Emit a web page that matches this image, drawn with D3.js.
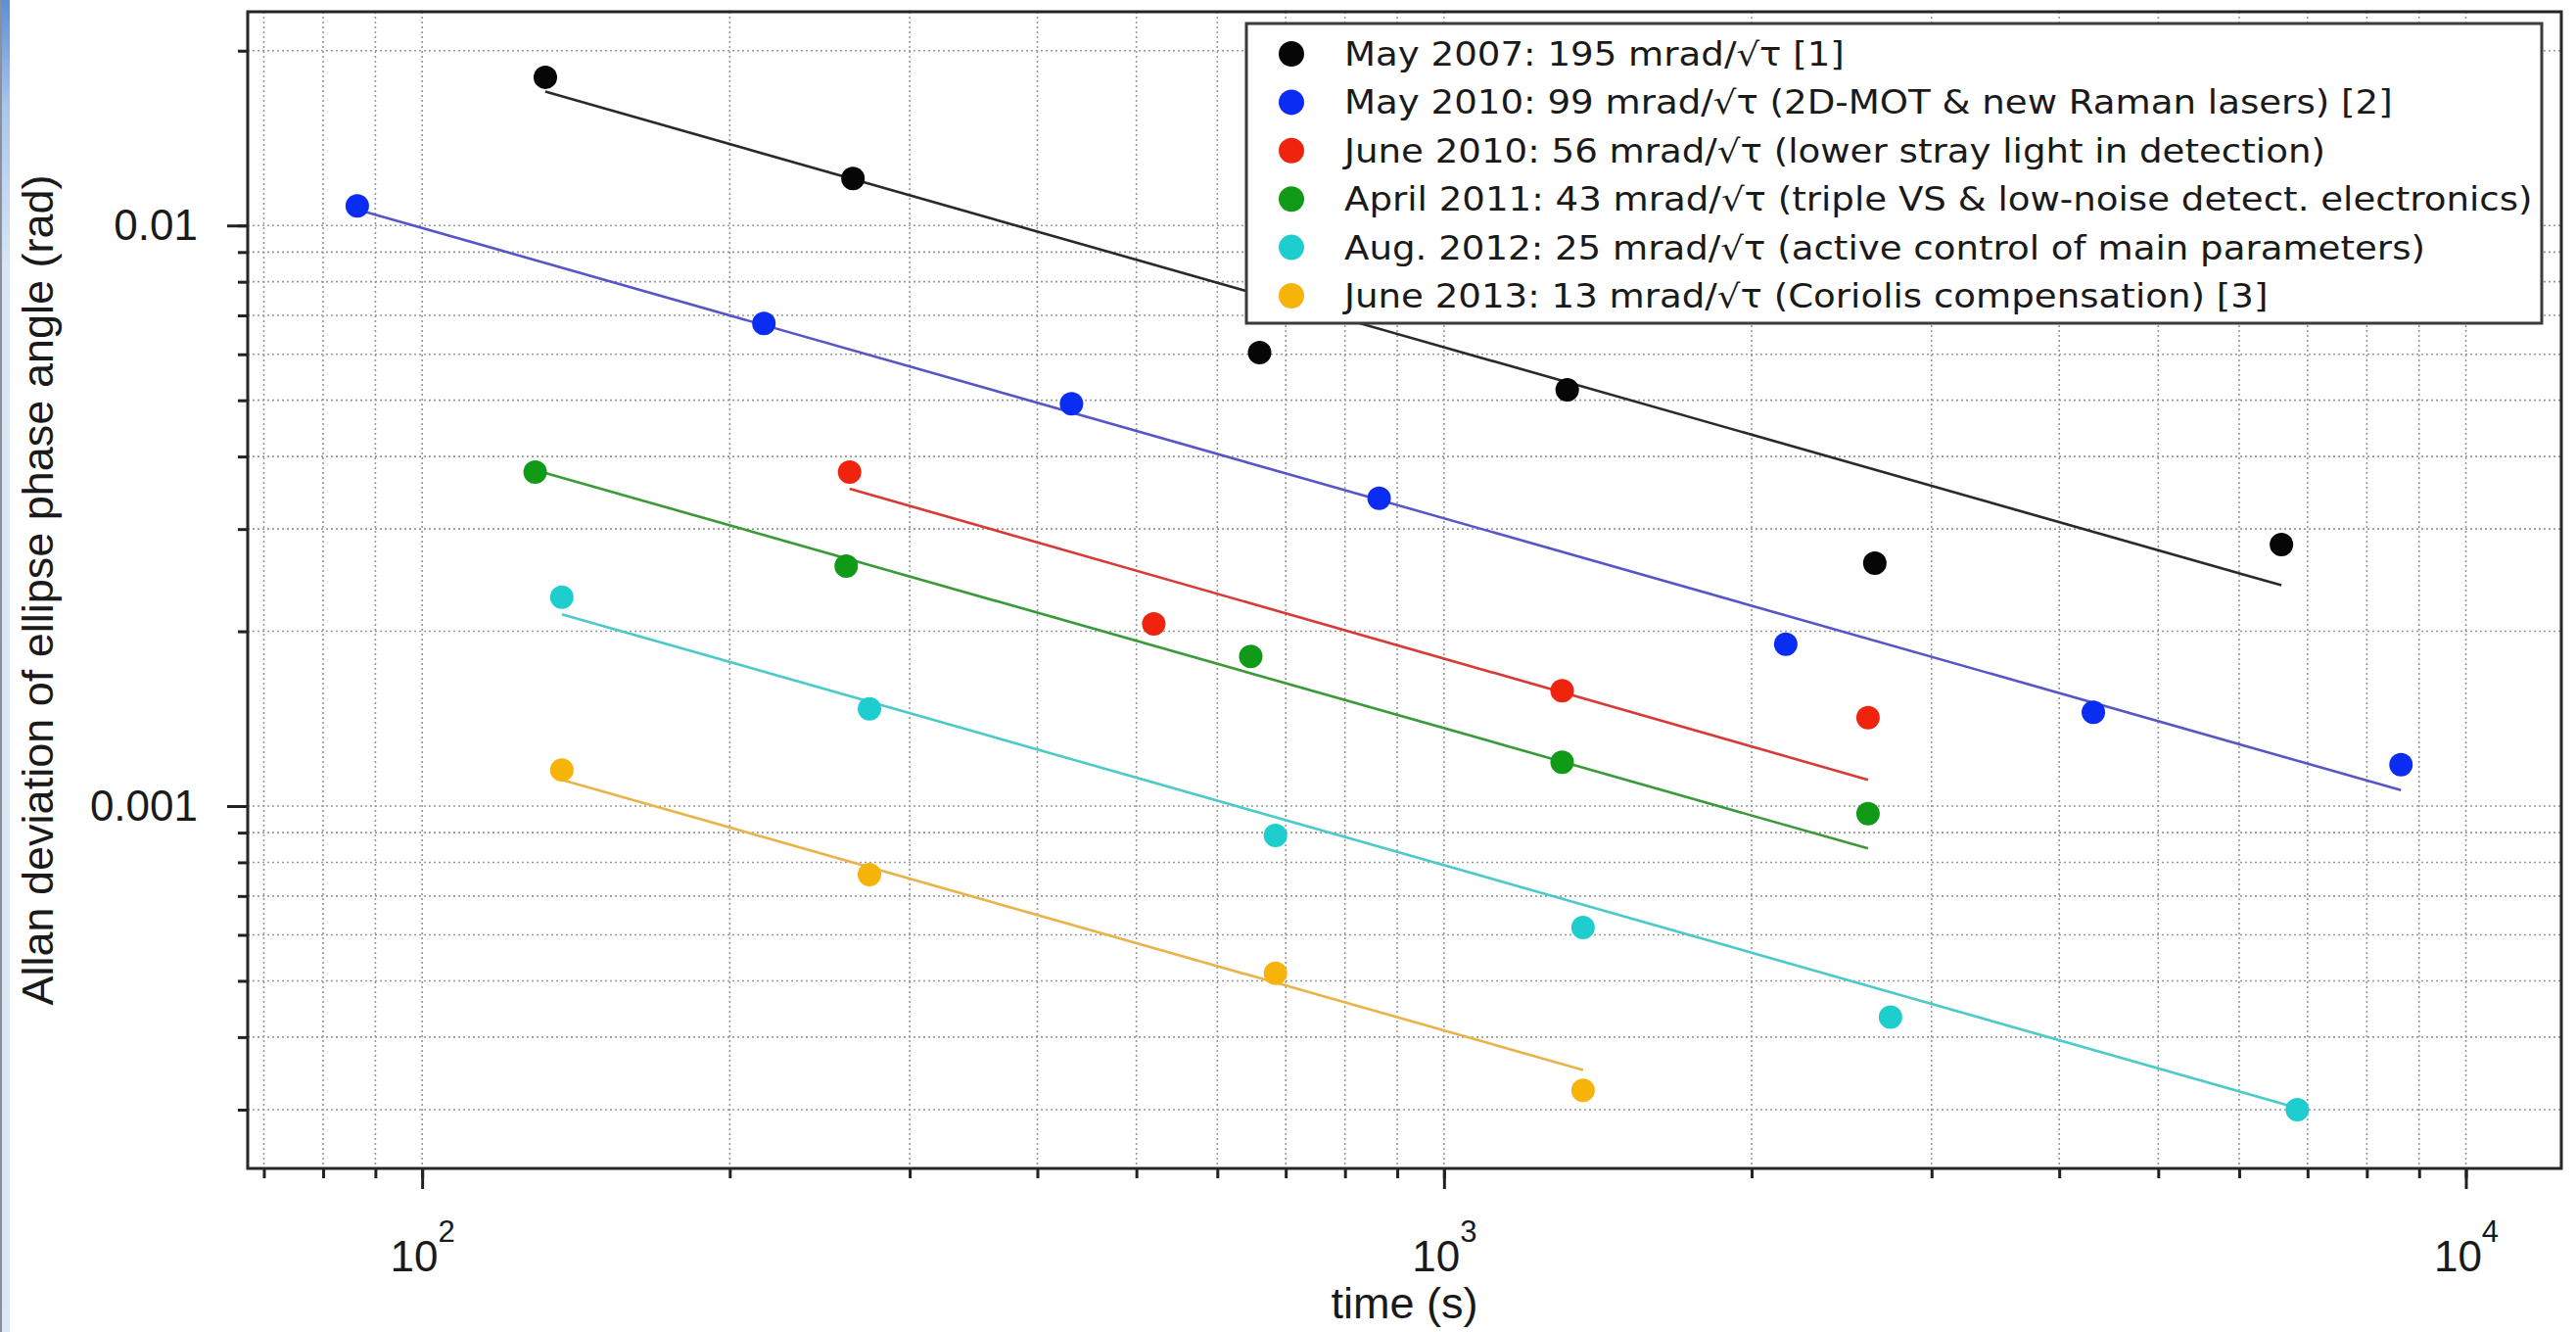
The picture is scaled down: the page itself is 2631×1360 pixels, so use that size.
<!DOCTYPE html>
<html>
<head>
<meta charset="utf-8">
<script src="https://cdn.jsdelivr.net/npm/d3@7"></script>
<style>
  body { margin: 0; background: #fff; }
  text { font-family: "Liberation Sans", Helvetica, Arial, sans-serif; fill: #1a1a1a; }
</style>
</head>
<body>
<svg id="chart"></svg>
<script>
const tauBlack = [132, 264, 660, 1320, 2640, 6600];
const sigBlack = [0.0180, 0.01205, 0.00604, 0.00521, 0.00262, 0.00282];
const tauBlue = [86.4, 216, 432, 864, 2160, 4320, 8640];
const sigBlue = [0.01081, 0.00678, 0.00493, 0.00339, 0.00190, 0.00145, 0.001178];
const tauRed = [262, 520, 1305, 2600];
const sigRed = [0.00376, 0.00206, 0.00158, 0.00142];
const tauGreen = [129, 260, 647, 1305, 2600];
const sigGreen = [0.00376, 0.00259, 0.00181, 0.00119, 0.00097];
const tauCyan = [137, 274, 684, 1368, 2735, 6840];
const sigCyan = [0.00229, 0.00147, 0.00089, 0.000618, 0.000433, 0.000300];
const tauOrange = [137, 274, 684, 1368];
const sigOrange = [0.001154, 0.000762, 0.000515, 0.000324];

// 1/sqrt(tau) fit lines: start and end points
const fitTau = [[132, 6600], [86.4, 8640], [262, 2600], [129, 2600], [137, 6840], [137, 1368]];
const fitSig = [[0.0170, 0.00240], [0.01065, 0.001065], [0.00352, 0.00111], [0.00379, 0.000845], [0.00214, 0.000302], [0.00111, 0.000351]];

const legendLabels = [
  'May 2007: 195 mrad/\u221A\u03C4 [1]',
  'May 2010: 99 mrad/\u221A\u03C4 (2D-MOT & new Raman lasers) [2]',
  'June 2010: 56 mrad/\u221A\u03C4 (lower stray light in detection)',
  'April 2011: 43 mrad/\u221A\u03C4 (triple VS & low-noise detect. electronics)',
  'Aug. 2012: 25 mrad/\u221A\u03C4 (active control of main parameters)',
  'June 2013: 13 mrad/\u221A\u03C4 (Coriolis compensation) [3]'
];

// Axis ticks
const xGridTicks = [70, 80, 90, 100, 200, 300, 400, 500, 600, 700, 800, 900,
  1000, 2000, 3000, 4000, 5000, 6000, 7000, 8000, 9000, 10000];
const xMajorTicks = [100, 1000, 10000];
const xMajorExp = ['2', '3', '4'];
const yGridTicks = [0.0003, 0.0004, 0.0005, 0.0006, 0.0007, 0.0008, 0.0009,
  0.001, 0.002, 0.003, 0.004, 0.005, 0.006, 0.007, 0.008, 0.009, 0.01, 0.02];
const yMajorTicks = [0.01, 0.001];
const yMajorLabels = ['0.01', '0.001'];

// Styles
const dotColors = ['#060606', '#0b2cf2', '#f0240e', '#119a17', '#1ecece', '#f6b30a'];
const lineColors = ['#2a2a2a', '#5656c8', '#d83a34', '#3a9a3a', '#4ccaca', '#e8b448'];

const series = [
  [tauBlack, sigBlack], [tauBlue, sigBlue], [tauRed, sigRed],
  [tauGreen, sigGreen], [tauCyan, sigCyan], [tauOrange, sigOrange]
];

const W = 2631, H = 1360;
const margin = { top: 12, right: 15, bottom: 167, left: 253 };

const svg = d3.select('#chart')
    .attr('width', W)
    .attr('height', H);

svg.append('rect').attr('width', W).attr('height', H).attr('fill', '#fff');

// thin window strip on the left edge
const grad = svg.append('defs').append('linearGradient')
    .attr('id', 'strip').attr('x1', 0).attr('y1', 0).attr('x2', 0).attr('y2', 1);
grad.append('stop').attr('offset', '0%').attr('stop-color', '#5d8fd6');
grad.append('stop').attr('offset', '8%').attr('stop-color', '#a9c6ec');
grad.append('stop').attr('offset', '20%').attr('stop-color', '#d8e6f6');
grad.append('stop').attr('offset', '100%').attr('stop-color', '#dae7f6');
svg.append('rect').attr('x', 0).attr('y', 0).attr('width', 10).attr('height', H).attr('fill', 'url(#strip)');
svg.append('line').attr('x1', 1).attr('x2', 1).attr('y1', 0).attr('y2', H)
    .attr('stroke', '#8a8f99').attr('stroke-width', 2);

const x = d3.scaleLog()
    .domain([67.5, 12400])
    .range([margin.left, W - margin.right]);

const y = d3.scaleLog()
    .domain([0.0002376, 0.02334])
    .range([H - margin.bottom, margin.top]);

const x0 = margin.left, x1 = W - margin.right;
const y0 = H - margin.bottom, y1 = margin.top;

// Dotted grid
const grid = svg.append('g')
    .attr('stroke', '#999')
    .attr('stroke-width', 1.6)
    .attr('stroke-dasharray', '2,3');

grid.selectAll('.vg')
    .data(xGridTicks)
  .enter().append('line')
    .attr('x1', d => x(d)).attr('x2', d => x(d))
    .attr('y1', y1).attr('y2', y0);

grid.selectAll('.hg')
    .data(yGridTicks)
  .enter().append('line')
    .attr('y1', d => y(d)).attr('y2', d => y(d))
    .attr('x1', x0).attr('x2', x1);

// Axes: minor ticks, then major ticks with labels
function styleAxis(g) {
    g.select('.domain').remove();
    g.selectAll('line').attr('stroke', '#222').attr('stroke-width', 3);
}

svg.append('g')
    .attr('transform', 'translate(' + x0 + ',0)')
    .call(d3.axisLeft(y).tickValues(yGridTicks).tickSize(10).tickFormat(''))
    .call(styleAxis);

const yMajor = svg.append('g')
    .attr('transform', 'translate(' + x0 + ',0)')
    .call(d3.axisLeft(y).tickValues(yMajorTicks).tickSize(21).tickPadding(30)
        .tickFormat((d, i) => yMajorLabels[i]))
    .call(styleAxis);
yMajor.selectAll('text')
    .style('font-size', '44px')
    .attr('fill', '#1a1a1a');

svg.append('g')
    .attr('transform', 'translate(0,' + y0 + ')')
    .call(d3.axisBottom(x).tickValues(xGridTicks).tickSize(10).tickFormat(''))
    .call(styleAxis);

const xMajor = svg.append('g')
    .attr('transform', 'translate(0,' + y0 + ')')
    .call(d3.axisBottom(x).tickValues(xMajorTicks).tickSize(21).tickFormat(''))
    .call(styleAxis);
xMajor.selectAll('.tick').each(function(d, i) {
    const t = d3.select(this).select('text')
        .attr('y', 105).attr('dy', null)
        .attr('text-anchor', 'middle')
        .attr('fill', '#1a1a1a')
        .style('font-size', '44px');
    t.append('tspan').text('10');
    t.append('tspan').attr('dy', -30).style('font-size', '31px').text(xMajorExp[i]);
});

// Frame
svg.append('rect')
    .attr('x', x0).attr('y', y1)
    .attr('width', x1 - x0).attr('height', y0 - y1)
    .attr('fill', 'none')
    .attr('stroke', '#262626')
    .attr('stroke-width', 3);

// Fit lines
const fitLine = d3.line().x(d => x(d[0])).y(d => y(d[1]));
svg.append('g').selectAll('path')
    .data(fitTau.map((t, i) => [[t[0], fitSig[i][0]], [t[1], fitSig[i][1]]]))
  .enter().append('path')
    .attr('d', fitLine)
    .attr('fill', 'none')
    .attr('stroke', (d, i) => lineColors[i])
    .attr('stroke-width', 2.6);

// Points
series.forEach(function(s, k) {
    const pts = s[0].map((t, i) => ({ tau: t, sig: s[1][i] }));
    svg.append('g').selectAll('circle')
        .data(pts)
      .enter().append('circle')
        .attr('cx', d => x(d.tau))
        .attr('cy', d => y(d.sig))
        .attr('r', 12)
        .attr('fill', dotColors[k]);
});

// Axis titles
svg.append('text')
    .attr('x', (x0 + x1) / 2)
    .attr('y', 1346)
    .attr('text-anchor', 'middle')
    .style('font-size', '45px')
    .text('time (s)');

svg.append('text')
    .attr('transform', 'translate(54,' + ((y0 + y1) / 2) + ') rotate(-90)')
    .attr('text-anchor', 'middle')
    .style('font-size', '45px')
    .text('Allan deviation of ellipse phase angle (rad)');

// Legend
const legend = svg.append('g');
legend.append('rect')
    .attr('x', 1273).attr('y', 24)
    .attr('width', 1323).attr('height', 306)
    .attr('fill', '#fff')
    .attr('stroke', '#3a3a3a')
    .attr('stroke-width', 3);

const rowStep = 49.4, rowTop = 55;
legend.selectAll('circle')
    .data(legendLabels)
  .enter().append('circle')
    .attr('cx', 1319)
    .attr('cy', (d, i) => rowTop + i * rowStep)
    .attr('r', 13)
    .attr('fill', (d, i) => dotColors[i]);

const legText = legend.append('g').attr('transform', 'translate(1373,0)');
legText.selectAll('text')
    .data(legendLabels)
  .enter().append('text')
    .attr('x', 0)
    .attr('y', (d, i) => rowTop + i * rowStep + 12)
    .style('font-family', '"DejaVu Sans", sans-serif')
    .style('font-size', '33px')
    .text(d => d);

// stretch legend text to the wide face used in the original
const longest = d3.max(legText.selectAll('text').nodes(), n => n.getComputedTextLength());
legText.attr('transform', 'translate(1373,0) scale(' + (1214 / longest) + ',1)');
</script>
</body>
</html>
